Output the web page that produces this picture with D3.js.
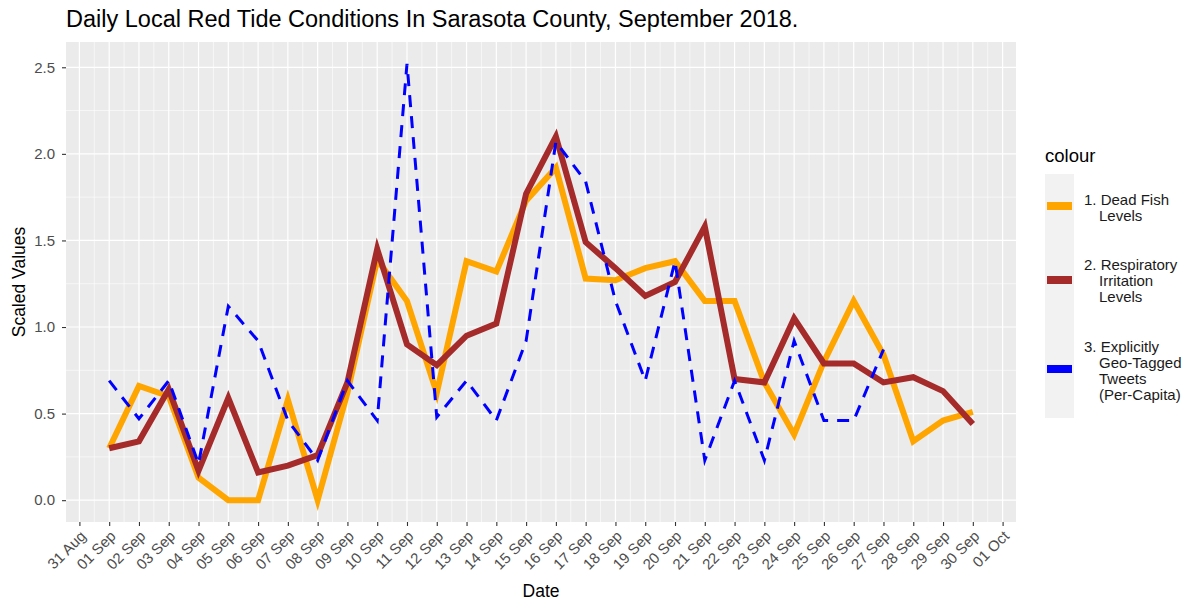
<!DOCTYPE html>
<html>
<head>
<meta charset="utf-8">
<script src="https://cdn.jsdelivr.net/npm/d3@7"></script>
<style>
  body { margin: 0; background: #fff; }
  svg { display: block; font-family: "Liberation Sans", Arial, sans-serif; }
  .tick-label { fill: #4d4d4d; font-size: 15px; }
</style>
</head>
<body>
<svg id="chart" width="1186" height="601"></svg>
<script>
(function () {
  // ==================
  // Data
  // ==================
  const days = d3.range(1, 31); // 1..30 September 2018
  const deadFish = [0.30, 0.66, 0.60, 0.13, 0.00, 0.00, 0.58, 0.00, 0.62, 1.39,
    1.15, 0.62, 1.38, 1.32, 1.73, 1.92, 1.28, 1.27, 1.34, 1.38,
    1.15, 1.15, 0.68, 0.38, 0.80, 1.15, 0.84, 0.34, 0.46, 0.51];
  const respiratory = [0.30, 0.34, 0.64, 0.17, 0.59, 0.16, 0.20, 0.26, 0.68, 1.45,
    0.90, 0.78, 0.95, 1.02, 1.77, 2.10, 1.49, 1.34, 1.18, 1.26,
    1.58, 0.70, 0.68, 1.05, 0.79, 0.79, 0.68, 0.71, 0.63, 0.44];
  const tweets = [0.69, 0.47, 0.69, 0.21, 1.12, 0.92, 0.46, 0.23, 0.69, 0.46,
    2.52, 0.48, 0.69, 0.46, 0.92, 2.07, 1.84, 1.15, 0.69, 1.38,
    0.23, 0.69, 0.23, 0.92, 0.46, 0.46, 0.87];
  const yTicks = [0, 0.5, 1, 1.5, 2, 2.5];

  const series = [
    { name: ['1. Dead Fish', 'Levels'], values: deadFish, color: 'orange', width: 6, dash: null },
    { name: ['2. Respiratory', 'Irritation', 'Levels'], values: respiratory, color: 'brown', width: 6, dash: null },
    { name: ['3. Explicitly', 'Geo-Tagged', 'Tweets', '(Per-Capita)'], values: tweets, color: 'blue', width: 3, dash: '12,9' },
  ];

  const MARGIN_LEFT = 66;
  const MARGIN_TOP = 42;
  const PANEL_RIGHT = 1016;
  const PANEL_BOTTOM = 522;
  const W = PANEL_RIGHT - MARGIN_LEFT;
  const H = PANEL_BOTTOM - MARGIN_TOP;

  const svg = d3.select('#chart');
  const dateOf = d => new Date(2018, 8, d);
  const dayMs = 864e5;

  // ggplot style 5% expansion
  const xMin = dateOf(1), xMax = dateOf(30);
  const xPad = (xMax - xMin) * 0.05;
  const xScale = d3.scaleTime()
    .domain([new Date(+xMin - xPad), new Date(+xMax + xPad)])
    .range([0, W]);

  const allVals = deadFish.concat(respiratory, tweets);
  const yLo = d3.min(allVals), yHi = d3.max(allVals);
  const yPad = (yHi - yLo) * 0.05;
  const yScale = d3.scaleLinear()
    .domain([yLo - yPad, yHi + yPad])
    .range([H, 0]);

  const g = svg.append('g').attr('transform', `translate(${MARGIN_LEFT}, ${MARGIN_TOP})`);

  // panel background
  g.append('rect').attr('width', W).attr('height', H).attr('fill', '#ebebeb');

  // grid lines
  const xMajor = d3.range(0, 32).map(i => dateOf(i)); // 31 Aug .. 01 Oct
  const xMinor = d3.range(-1, 31).map(i => new Date(+dateOf(i) + dayMs / 2));
  const yMinor = d3.range(-0.25, 2.8, 0.5).filter(v => v > yScale.domain()[0] && v < yScale.domain()[1]);

  g.selectAll('.x-minor').data(xMinor.filter(d => xScale(d) > 0 && xScale(d) < W)).join('line')
    .attr('x1', d => xScale(d)).attr('x2', d => xScale(d))
    .attr('y1', 0).attr('y2', H)
    .attr('stroke', '#fff').attr('stroke-width', 0.6);
  g.selectAll('.y-minor').data(yMinor).join('line')
    .attr('x1', 0).attr('x2', W)
    .attr('y1', d => yScale(d)).attr('y2', d => yScale(d))
    .attr('stroke', '#fff').attr('stroke-width', 0.6);
  g.selectAll('.x-major').data(xMajor).join('line')
    .attr('x1', d => xScale(d)).attr('x2', d => xScale(d))
    .attr('y1', 0).attr('y2', H)
    .attr('stroke', '#fff').attr('stroke-width', 1.2);
  g.selectAll('.y-major').data(yTicks).join('line')
    .attr('x1', 0).attr('x2', W)
    .attr('y1', d => yScale(d)).attr('y2', d => yScale(d))
    .attr('stroke', '#fff').attr('stroke-width', 1.2);

  // lines
  const line = d3.line()
    .x((d, i) => xScale(dateOf(days[i])))
    .y(d => yScale(d));

  series.forEach(s => {
    g.append('path')
      .datum(s.values)
      .attr('d', line)
      .attr('fill', 'none')
      .attr('stroke', s.color)
      .attr('stroke-width', s.width)
      .attr('stroke-linejoin', 'miter')
      .attr('stroke-dasharray', s.dash);
  });

  // ==================
  // Axes
  // ==================
  const xAxis = d3.axisBottom(xScale)
    .tickValues(xMajor)
    .tickFormat(d3.timeFormat('%d %b'))
    .tickSize(4)
    .tickPadding(3);
  const xAxisGroup = g.append('g')
    .attr('transform', `translate(0, ${H})`)
    .call(xAxis);
  xAxisGroup.select('.domain').remove();
  xAxisGroup.selectAll('.tick line').attr('stroke', '#333').attr('stroke-width', 1.1);
  xAxisGroup.selectAll('.tick text')
    .attr('class', 'tick-label')
    .attr('font-family', null)
    .attr('text-anchor', 'end')
    .attr('dy', null)
    .attr('y', 0)
    .attr('transform', 'translate(7, 15) rotate(-45)');

  const yAxis = d3.axisLeft(yScale)
    .tickValues(yTicks)
    .tickFormat(d3.format('.1f'))
    .tickSize(4)
    .tickPadding(7);
  const yAxisGroup = g.append('g').call(yAxis);
  yAxisGroup.select('.domain').remove();
  yAxisGroup.selectAll('.tick line').attr('stroke', '#333').attr('stroke-width', 1.1);
  yAxisGroup.selectAll('.tick text').attr('class', 'tick-label').attr('font-family', null);

  // titles
  svg.append('text')
    .attr('x', MARGIN_LEFT).attr('y', 27)
    .attr('font-size', 23.5).attr('fill', '#000')
    .text('Daily Local Red Tide Conditions In Sarasota County, September 2018.');
  svg.append('text')
    .attr('x', MARGIN_LEFT + W / 2).attr('y', 597)
    .attr('text-anchor', 'middle').attr('font-size', 17.5).attr('fill', '#000')
    .text('Date');
  svg.append('text')
    .attr('transform', `translate(25, ${MARGIN_TOP + H / 2}) rotate(-90)`)
    .attr('text-anchor', 'middle').attr('font-size', 17.5).attr('fill', '#000')
    .text('Scaled Values');

  // ==================
  // Legend
  // ==================
  const legend = svg.append('g').attr('transform', 'translate(1045, 0)');
  legend.append('text').attr('x', 0).attr('y', 162)
    .attr('font-size', 18.5).attr('fill', '#000').text('colour');
  legend.append('rect').attr('x', 0).attr('y', 174).attr('width', 29).attr('height', 244)
    .attr('fill', '#f2f2f2');
  const keyY = [206, 280, 369];
  const labelTop = [199, 264, 346];
  series.forEach((s, i) => {
    legend.append('line')
      .attr('x1', 2).attr('x2', 27)
      .attr('y1', keyY[i]).attr('y2', keyY[i])
      .attr('stroke', s.color).attr('stroke-width', 8);
    const t = legend.append('text')
      .attr('font-size', 15).attr('fill', '#1a1a1a');
    s.name.forEach((ln, j) => {
      t.append('tspan')
        .attr('x', j === 0 ? 39 : 54)
        .attr('y', labelTop[i] + 5.5 + j * 16.3)
        .text(ln);
    });
  });
})();
</script>
</body>
</html>
